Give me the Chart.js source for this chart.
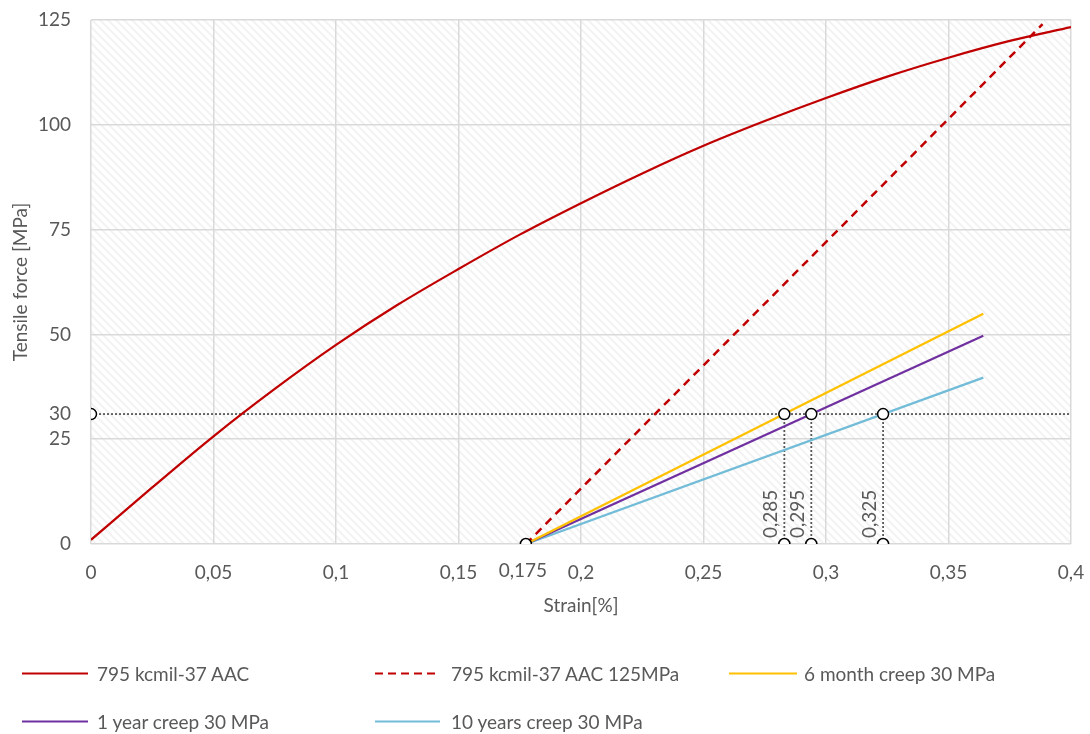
<!DOCTYPE html>
<html>
<head>
<meta charset="utf-8">
<script src="https://cdn.jsdelivr.net/npm/chart.js@4.4.1/dist/chart.umd.min.js"></script>
<style>
  body { margin: 0; background: #fff; }
  #wrap { position: relative; width: 1090px; height: 734px; font-family: Lato, 'Open Sans', sans-serif; }
  #c { position: absolute; left: 0; top: 0; }
  .leg { position: absolute; display: flex; align-items: center; font-size: 19px; color: #595959; white-space: nowrap; transform: translateY(-50%); }
  .leg i { display: block; height: 2px; }
</style>
</head>
<body>
<div id="wrap">
  <canvas id="c" width="1090" height="734"></canvas>
  <div id="legend"></div>
</div>
<script>
// ------- Dados -------
const curveStrain = [0, 0.025, 0.05, 0.075, 0.1, 0.125, 0.15, 0.175, 0.2, 0.225, 0.25, 0.275, 0.3, 0.325, 0.35, 0.375, 0.4];
const curveForce  = [1, 13.5, 25.7, 37, 47.5, 57, 65.6, 73.8, 81.3, 88.4, 95, 100.9, 106.4, 111.5, 116, 120, 123.3];

const dashedStrain = [0.1775, 0.3884];
const dashedForce  = [0, 124];

const creepStrain = [0.1775, 0.3642];
const creep6m  = [0, 54.9];
const creep1y  = [0, 49.7];
const creep10y = [0, 39.7];

const refForce = 31;                        // linha pontilhada "30"
const crossStrain = [0.283, 0.294, 0.3233];
const crossLabels = ['0,285', '0,295', '0,325'];
const startStrain = 0.1775;
const startLabel = '0,175';
const refLabel = '30';

const seriesNames = ['795 kcmil-37 AAC', '795 kcmil-37 AAC 125MPa', '6 month creep 30 MPa',
                     '1 year creep 30 MPa', '10 years creep 30 MPa'];
const seriesColors = ['#C00000', '#C00000', '#FFC000', '#7030A0', '#72BCD8'];

// ------- Utilidades -------
const pts = (xs, ys) => xs.map((x, i) => ({ x, y: ys[i] }));
const fmt = v => String(Math.round(v * 1000) / 1000).replace('.', ',');

const dotted = { borderColor: '#595959', borderWidth: 1.8, borderDash: [2, 2], pointRadius: 0, showLine: true, order: 5 };

const datasets = [
  { label: seriesNames[0], data: pts(curveStrain, curveForce), borderColor: seriesColors[0], borderWidth: 2.25,
    cubicInterpolationMode: 'monotone', pointRadius: 0, showLine: true, order: 2 },
  { label: seriesNames[1], data: pts(dashedStrain, dashedForce), borderColor: seriesColors[1], borderWidth: 2.5,
    borderDash: [8, 6], pointRadius: 0, showLine: true, order: 2 },
  { label: seriesNames[2], data: pts(creepStrain, creep6m), borderColor: seriesColors[2], borderWidth: 2.25, pointRadius: 0, showLine: true, order: 2 },
  { label: seriesNames[3], data: pts(creepStrain, creep1y), borderColor: seriesColors[3], borderWidth: 2.25, pointRadius: 0, showLine: true, order: 2 },
  { label: seriesNames[4], data: pts(creepStrain, creep10y), borderColor: seriesColors[4], borderWidth: 2.25, pointRadius: 0, showLine: true, order: 2 },
  Object.assign({ label: 'ref', data: [{ x: 0, y: refForce }, { x: 0.4, y: refForce }] }, dotted)
];
crossStrain.forEach(x => {
  datasets.push(Object.assign({ label: 'v', data: [{ x, y: 0 }, { x, y: refForce }] }, dotted));
});
// marcadores (círculos)
const markers = [{ x: 0, y: refForce }, { x: startStrain, y: 0 }];
crossStrain.forEach(x => { markers.push({ x, y: refForce }); markers.push({ x, y: 0 }); });
datasets.push({ label: 'm', data: markers, showLine: false, pointRadius: 5.5, pointBorderWidth: 1.5,
  pointBackgroundColor: '#fff', pointBorderColor: '#000', order: 0 });

// ------- Plugins -------
const hatchPlugin = {
  id: 'hatch',
  beforeDraw(chart) {
    const { ctx, chartArea: a } = chart;
    const p = document.createElement('canvas');
    p.width = 8; p.height = 8;
    const pc = p.getContext('2d');
    pc.fillStyle = '#fff'; pc.fillRect(0, 0, 8, 8);
    pc.strokeStyle = '#f3f3f3'; pc.lineWidth = 2.2;
    pc.beginPath();
    pc.moveTo(-2, -2); pc.lineTo(10, 10);
    pc.moveTo(-2, 6); pc.lineTo(2, 10);
    pc.moveTo(6, -2); pc.lineTo(10, 2);
    pc.stroke();
    ctx.save();
    ctx.fillStyle = ctx.createPattern(p, 'repeat');
    ctx.fillRect(a.left, a.top, a.right - a.left, a.bottom - a.top);
    ctx.restore();
  }
};

const labelsPlugin = {
  id: 'extraLabels',
  afterDraw(chart) {
    const { ctx, chartArea: a, scales: { x, y } } = chart;
    ctx.save();
    ctx.font = '19px Lato';
    ctx.fillStyle = '#595959';
    // 0,175 sob o eixo
    ctx.textAlign = 'center'; ctx.textBaseline = 'top';
    ctx.fillText(startLabel, x.getPixelForValue(startStrain) - 3, a.bottom + 17);
    // 30 no eixo y
    ctx.textAlign = 'right'; ctx.textBaseline = 'middle';
    ctx.fillText(refLabel, a.left - 20, y.getPixelForValue(refForce));
    // rótulos verticais
    crossStrain.forEach((v, i) => {
      ctx.save();
      ctx.translate(x.getPixelForValue(v) - 7, a.bottom - 6);
      ctx.rotate(-Math.PI / 2);
      ctx.textAlign = 'left'; ctx.textBaseline = 'alphabetic';
      ctx.fillText(crossLabels[i], 0, 0);
      ctx.restore();
    });
    ctx.restore();
  }
};

// ------- Gráfico -------
Chart.defaults.font.family = 'Lato';
Chart.defaults.font.size = 19;
Chart.defaults.color = '#595959';

new Chart(document.getElementById('c'), {
  type: 'scatter',
  data: { datasets },
  options: {
    responsive: false,
    animation: false,
    layout: { padding: { top: 20, right: 19, bottom: 110, left: 0 } },
    plugins: { legend: { display: false }, tooltip: { enabled: false } },
    scales: {
      x: {
        type: 'linear', min: 0, max: 0.4,
        ticks: { stepSize: 0.05, padding: 17, callback: v => fmt(v) },
        grid: { color: '#d9d9d9', lineWidth: 1.5, drawTicks: false },
        border: { display: false },
        title: { display: true, text: 'Strain[%]', padding: { top: 0, bottom: 7 } },
        afterFit: s => { s.height = 80; s.paddingLeft = 0; s.paddingRight = 0; }
      },
      y: {
        min: 0, max: 125,
        ticks: { stepSize: 25, padding: 20 },
        grid: { color: '#d9d9d9', lineWidth: 1.5, drawTicks: false },
        border: { display: false },
        title: { display: true, text: 'Tensile force [MPa]', padding: { top: 9, bottom: 0 } },
        afterFit: s => { s.width = 91; s.paddingTop = 0; s.paddingBottom = 0; }
      }
    }
  },
  plugins: [hatchPlugin, labelsPlugin]
});

// ------- Legenda -------
const legendPos = [
  { x: 22, y: 673, w: 66, gap: 9 }, { x: 375, y: 673, w: 65, gap: 11 }, { x: 729, y: 673, w: 68, gap: 7 },
  { x: 22, y: 721, w: 66, gap: 9 }, { x: 375, y: 721, w: 65, gap: 11 }
];
const legendEl = document.getElementById('legend');
seriesNames.forEach((name, i) => {
  const p = legendPos[i];
  const item = document.createElement('div');
  item.className = 'leg';
  item.style.left = p.x + 'px';
  item.style.top = p.y + 'px';
  const line = document.createElement('i');
  line.style.width = p.w + 'px';
  line.style.marginRight = p.gap + 'px';
  line.style.background = i === 1
    ? `repeating-linear-gradient(to right, ${seriesColors[i]} 0 8px, transparent 8px 13px)`
    : seriesColors[i];
  item.appendChild(line);
  item.appendChild(document.createTextNode(name));
  legendEl.appendChild(item);
});
</script>
</body>
</html>
